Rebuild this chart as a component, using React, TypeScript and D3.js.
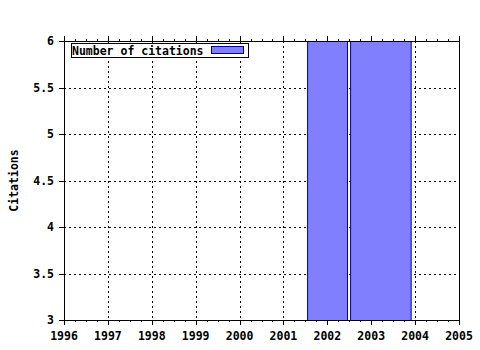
import React from "react";
import * as d3 from "d3";

const binStart = [2001.55, 2002.53];
const binEnd = [2002.46, 2003.91];
const binValues = [8, 8];
const xTicks = [1996, 1997, 1998, 1999, 2000, 2001, 2002, 2003, 2004, 2005];
const yTicks = [3, 3.5, 4, 4.5, 5, 5.5, 6];
const seriesName = "Number of citations";
const yTitle = "Citations";

const W = 480, H = 350;
const L = 64, R = 459, T = 41, B = 320;
const font = "'DejaVu Sans Mono', monospace";
const fs = 11.5;

export default function App() {
  const x = d3.scaleLinear().domain([1996, 2005]).range([L, R]);
  const y = d3.scaleLinear().domain([3, 6]).range([B, T]);
  const minor: number[] = [];
  for (let i = 0; i < xTicks.length - 1; i++) for (let k = 1; k < 4; k++) minor.push(xTicks[i] + k / 4);
  return (
    <svg width={W} height={H} style={{ position: "absolute", left: 0, top: 0, background: "#fff" }}>
      <defs>
        <clipPath id="plot"><rect x={L} y={T} width={R - L} height={B - T} /></clipPath>
      </defs>
      <rect x={0} y={0} width={W} height={H} fill="#fff" />
      {xTicks.slice(1, -1).map((t) => (
        <line key={"gx" + t} x1={Math.round(x(t)) + 0.5} x2={Math.round(x(t)) + 0.5} y1={T} y2={B} stroke="#000" strokeDasharray="2,3" strokeWidth={1} />
      ))}
      {yTicks.slice(1, -1).map((t) => (
        <line key={"gy" + t} x1={L} x2={R} y1={Math.round(y(t)) + 0.5} y2={Math.round(y(t)) + 0.5} stroke="#000" strokeDasharray="2,3" strokeWidth={1} />
      ))}
      <g clipPath="url(#plot)">
        {binValues.map((v, i) => (
          <rect key={i} x={x(binStart[i])} y={y(v)} width={x(binEnd[i]) - x(binStart[i])} height={y(0) - y(v)} fill="#8080ff" stroke="#0000a0" strokeWidth={1} />
        ))}
      </g>
      <rect x={L + 0.5} y={T + 0.5} width={R - L} height={B - T} fill="none" stroke="#000" strokeWidth={1} />
      {xTicks.map((t) => (
        <g key={"xt" + t}>
          <line x1={Math.round(x(t)) + 0.5} x2={Math.round(x(t)) + 0.5} y1={B} y2={B + 5} stroke="#000" />
          <line x1={Math.round(x(t)) + 0.5} x2={Math.round(x(t)) + 0.5} y1={T} y2={T - 5} stroke="#000" />
          <text x={x(t)} y={340} textAnchor="middle" fontFamily={font} fontWeight="bold" fontSize={fs}>{t}</text>
        </g>
      ))}
      {minor.map((t, i) => (
        <g key={"mt" + i}>
          <line x1={Math.round(x(t)) + 0.5} x2={Math.round(x(t)) + 0.5} y1={B} y2={B + 2} stroke="#000" />
          <line x1={Math.round(x(t)) + 0.5} x2={Math.round(x(t)) + 0.5} y1={T} y2={T - 2} stroke="#000" />
        </g>
      ))}
      {yTicks.map((t) => (
        <g key={"yt" + t}>
          <line x1={L - 5} x2={L} y1={Math.round(y(t)) + 0.5} y2={Math.round(y(t)) + 0.5} stroke="#000" />
          <text x={54} y={y(t) + 4} textAnchor="end" fontFamily={font} fontWeight="bold" fontSize={fs}>{t}</text>
        </g>
      ))}
      <text transform={`translate(18,${(T + B) / 2}) rotate(-90)`} textAnchor="middle" fontFamily={font} fontWeight="bold" fontSize={fs}>{yTitle}</text>
      <rect x={71.5} y={43.5} width={177} height={14} fill="#fff" stroke="#000" />
      <text x={72} y={54.5} fontFamily={font} fontWeight="bold" fontSize={fs}>{seriesName}</text>
      <rect x={211.5} y={46.5} width={32} height={7} fill="#8080ff" stroke="#0000a0" />
    </svg>
  );
}
